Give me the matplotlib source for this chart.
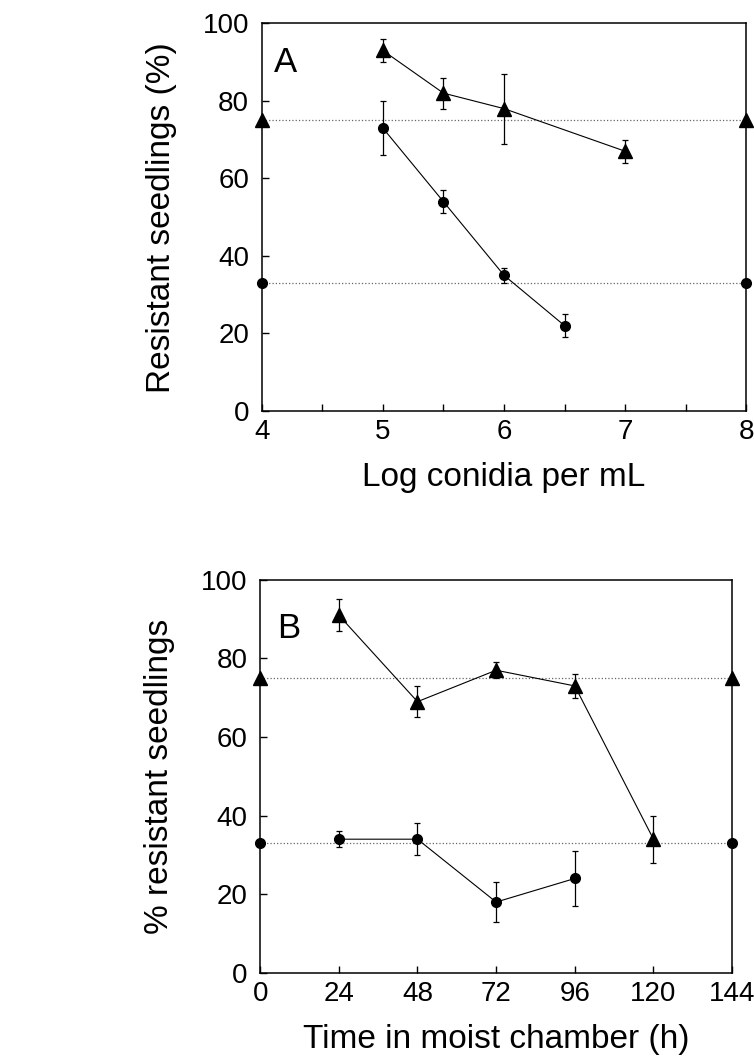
import matplotlib.pyplot as plt

plt.rcParams['font.family'] = ['Liberation Sans', 'DejaVu Sans']

# Panel A: inoculum concentration
logconc_tri = [5, 5.5, 6, 7]
res_tri_a = [93, 82, 78, 67]
err_tri_a = [3, 4, 9, 3]
logconc_dot = [5, 5.5, 6, 6.5]
res_dot_a = [73, 54, 35, 22]
err_dot_a = [7, 3, 2, 3]

# Panel B: time in moist chamber
hours_tri = [24, 48, 72, 96, 120]
res_tri_b = [91, 69, 77, 73, 34]
err_tri_b = [4, 4, 2, 3, 6]
hours_dot = [24, 48, 72, 96]
res_dot_b = [34, 34, 18, 24]
err_dot_b = [2, 4, 5, 7]

# reference (control) levels
ref_tri = 75
ref_dot = 33

fig = plt.figure(figsize=(7.54, 10.62), dpi=100)
axA = fig.add_axes([0.347, 0.613, 0.643, 0.365])
axB = fig.add_axes([0.345, 0.084, 0.626, 0.370])


def panel(ax, xs_t, ys_t, es_t, xs_d, ys_d, es_d, xlim, letter, lpos):
    x0, x1 = xlim
    # control reference lines with markers on the spines
    for yref, mk, ms in [(ref_tri, '^', 9.5), (ref_dot, 'o', 7)]:
        ax.plot([x0, x1], [yref, yref], ls=':', color='0.4', lw=0.9, zorder=1)
        ax.plot([x0, x1], [yref, yref], ls='none', marker=mk, ms=ms,
                color='black', clip_on=False, zorder=5)
    ax.errorbar(xs_t, ys_t, yerr=es_t, fmt='-^', color='black', ms=9.5,
                lw=0.8, elinewidth=0.9, capsize=2.5, capthick=0.9, zorder=3)
    ax.errorbar(xs_d, ys_d, yerr=es_d, fmt='-o', color='black', ms=7,
                lw=0.8, elinewidth=0.9, capsize=2.5, capthick=0.9, zorder=3)
    ax.set_xlim(x0, x1)
    ax.set_ylim(0, 100)
    ax.set_yticks([0, 20, 40, 60, 80, 100])
    ax.tick_params(direction='in', labelsize=20, length=5, width=1)
    ax.tick_params(axis='y', pad=9)
    ax.tick_params(axis='x', pad=6)
    ax.tick_params(which='minor', direction='in', length=5, width=1)
    for s in ax.spines.values():
        s.set_linewidth(1.1)
    ax.text(lpos[0], lpos[1], letter, transform=ax.transAxes, fontsize=25,
            va='center', ha='left')


panel(axA, logconc_tri, res_tri_a, err_tri_a, logconc_dot, res_dot_a, err_dot_a,
      (4, 8), 'A', (0.025, 0.90))
axA.set_xticks([4, 5, 6, 7, 8])
axA.set_xticks([4.5, 5.5, 6.5, 7.5], minor=True)
axA.set_xlabel('Log conidia per mL', fontsize=24, labelpad=12)
axA.set_ylabel('Resistant seedlings (%)', fontsize=24)
axA.yaxis.set_label_coords(-0.175, 0.5)

panel(axB, hours_tri, res_tri_b, err_tri_b, hours_dot, res_dot_b, err_dot_b,
      (0, 144), 'B', (0.035, 0.875))
axB.set_xticks([0, 24, 48, 72, 96, 120, 144])
axB.set_xlabel('Time in moist chamber (h)', fontsize=24, labelpad=12)
axB.set_ylabel('% resistant seedlings', fontsize=24)
axB.yaxis.set_label_coords(-0.18, 0.5)

fig.savefig('out.png', dpi=100)
